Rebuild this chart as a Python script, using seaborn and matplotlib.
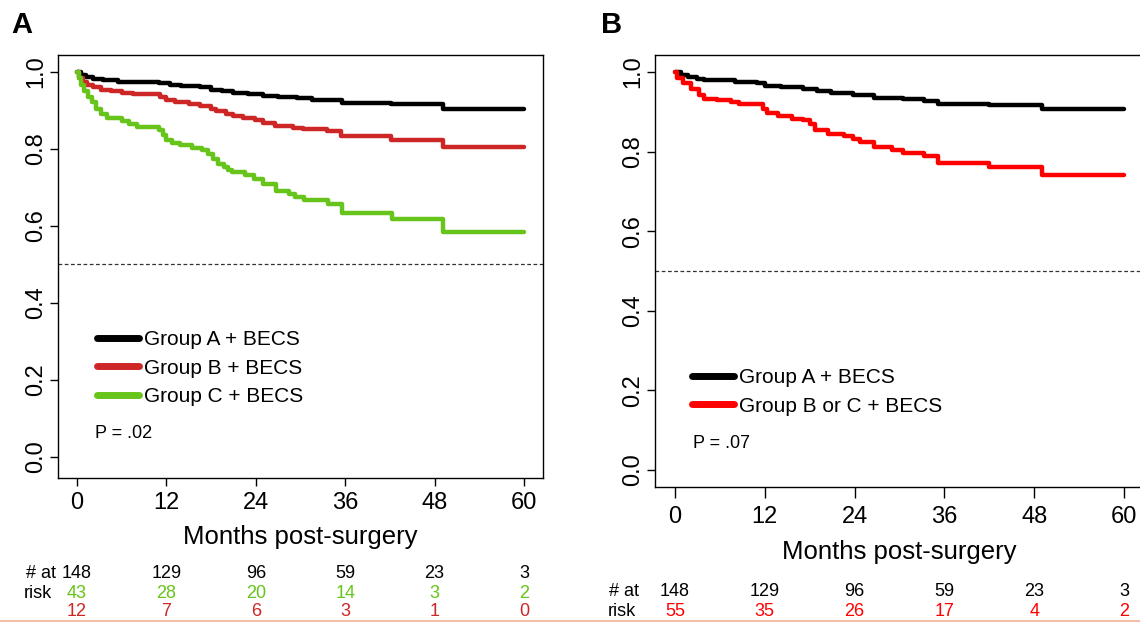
import numpy as np
import pandas as pd
import matplotlib.pyplot as plt
import matplotlib.transforms as mtransforms
from matplotlib.lines import Line2D
import seaborn as sns

# ---------------- data ----------------
# Panel A
a_time_grpA = [0, 0.5, 1.2, 2.2, 3.5, 5.5, 8.5, 11.0, 12.5, 14.0, 16.5, 18.0, 19.5, 21.0,
               23.0, 25.0, 27.0, 29.5, 31.5, 33.5, 35.6, 42.1, 49.1, 60]
a_surv_grpA = [1.0, 0.992, 0.987, 0.982, 0.978, 0.975, 0.973, 0.970, 0.966, 0.963, 0.960, 0.954,
               0.950, 0.946, 0.942, 0.938, 0.934, 0.931, 0.928, 0.926, 0.920, 0.916, 0.905, 0.905]

a_time_grpB = [0, 0.3, 0.8, 1.4, 2.2, 3.2, 4.5, 6.0, 7.5, 11.2, 12.0, 13.2, 15.0, 16.5, 18.0,
               18.7, 20.0, 21.0, 22.3, 23.9, 25.0, 26.6, 29.0, 30.4, 33.6, 35.5, 42.1, 49.1, 60]
a_surv_grpB = [1.0, 0.985, 0.975, 0.967, 0.960, 0.954, 0.951, 0.946, 0.942, 0.935, 0.926, 0.921,
               0.917, 0.912, 0.905, 0.898, 0.890, 0.886, 0.881, 0.875, 0.868, 0.860, 0.855, 0.851,
               0.846, 0.833, 0.823, 0.805, 0.805]

a_time_grpC = [0, 0.3, 0.6, 1.0, 1.5, 2.0, 2.6, 3.2, 4.0, 6.0, 7.0, 8.0, 11.0, 11.6, 12.0, 12.8,
               13.8, 15.5, 16.8, 17.6, 18.2, 18.9, 19.7, 20.3, 20.8, 22.6, 23.8, 25.0, 26.7, 28.4,
               29.3, 30.5, 33.7, 35.6, 42.3, 49.1, 60]
a_surv_grpC = [1.0, 0.985, 0.965, 0.950, 0.935, 0.922, 0.905, 0.890, 0.880, 0.872, 0.865, 0.858,
               0.848, 0.835, 0.823, 0.816, 0.810, 0.803, 0.796, 0.786, 0.773, 0.760, 0.753, 0.745,
               0.740, 0.732, 0.723, 0.710, 0.690, 0.684, 0.675, 0.668, 0.658, 0.634, 0.617, 0.584,
               0.584]

# Panel B
b_time_grpA = [0, 0.8, 1.8, 3.0, 3.9, 8.0, 10.9, 12.0, 14.2, 17.1, 19.0, 20.9, 23.8, 26.6,
               30.5, 33.3, 35.2, 41.9, 49.1, 60]
b_surv_grpA = [1.0, 0.993, 0.987, 0.982, 0.979, 0.974, 0.972, 0.964, 0.962, 0.958, 0.951, 0.947,
               0.941, 0.935, 0.931, 0.928, 0.920, 0.917, 0.908, 0.908]

b_time_grpBC = [0, 0.3, 1.05, 2.2, 3.2, 3.9, 5.6, 7.5, 8.5, 11.8, 12.3, 13.7, 15.6, 17.1, 18.0,
                18.7, 20.4, 22.6, 23.8, 24.7, 26.6, 29.0, 30.5, 33.3, 35.2, 41.9, 49.1, 60]
b_surv_grpBC = [1.0, 0.985, 0.972, 0.957, 0.943, 0.932, 0.929, 0.924, 0.920, 0.907, 0.897, 0.890,
                0.883, 0.878, 0.868, 0.855, 0.845, 0.838, 0.832, 0.823, 0.811, 0.803, 0.797, 0.788,
                0.772, 0.761, 0.740, 0.740]

risk_times = [0, 12, 24, 36, 48, 60]
a_risk_grpA = [148, 129, 96, 59, 23, 3]
a_risk_grpC = [43, 28, 20, 14, 3, 2]
a_risk_grpB = [12, 7, 6, 3, 1, 0]
b_risk_grpA = [148, 129, 96, 59, 23, 3]
b_risk_grpBC = [55, 35, 26, 17, 4, 2]

labels_a = ['Group A + BECS', 'Group B + BECS', 'Group C + BECS']
labels_b = ['Group A + BECS', 'Group B or C + BECS']

# ---------------- style ----------------
BLACK = '#000000'
DRED = '#CD2626'
GREEN = '#66C41A'
RED = '#FF0000'

sns.set_style('white')
plt.rcParams['font.family'] = ['Liberation Sans', 'DejaVu Sans']
for k in ('text.color', 'axes.labelcolor', 'xtick.color', 'ytick.color'):
    plt.rcParams[k] = 'black'

fig = plt.figure(figsize=(11.4, 6.23), dpi=100)
W, H = 1140, 623


def fx(px):
    return px / W


def fy(py):
    return 1 - py / H


def px_axes(left, top, right, bottom):
    return fig.add_axes([fx(left), fy(bottom), (right - left) / W, (bottom - top) / H])


def km(ax, t, s, color):
    df = pd.DataFrame({'t': t, 's': s})
    sns.lineplot(data=df, x='t', y='s', ax=ax, color=color, lw=3.2,
                 drawstyle='steps-post', estimator=None, legend=False)


def style_axes(ax, xlim, ylim):
    ax.set_xlim(*xlim)
    ax.set_ylim(*ylim)
    ax.set_xticks(risk_times)
    ax.set_yticks([0.0, 0.2, 0.4, 0.6, 0.8, 1.0])
    ax.set_yticklabels(['0.0', '0.2', '0.4', '0.6', '0.8', '1.0'], rotation=90, va='center')
    ax.tick_params(axis='both', direction='out', length=6, width=1, color='black',
                   labelsize=17, pad=4, left=True, bottom=True)
    ax.tick_params(axis='y', pad=2)
    for sp in ax.spines.values():
        sp.set_color('black')
        sp.set_linewidth(1.0)
    ax.set_ylabel('')
    ax.set_xlabel('Months post-surgery', fontsize=18.5, labelpad=8)
    ax.axhline(0.5, color='#333333', lw=0.9, ls=(0, (3, 2)))


def risk_row(ax, y_px, values, color):
    tr = mtransforms.blended_transform_factory(ax.transData, fig.transFigure)
    for t, v in zip(risk_times, values):
        ax.text(t, fy(y_px), str(v), transform=tr, ha='center', va='center',
                fontsize=13, color=color, clip_on=False)


# ---------------- panel A ----------------
axA = px_axes(58, 55, 543, 478)
km(axA, a_time_grpA, a_surv_grpA, BLACK)
km(axA, a_time_grpB, a_surv_grpB, DRED)
km(axA, a_time_grpC, a_surv_grpC, GREEN)
style_axes(axA, (-2.55, 62.55), (-0.055, 1.044))
handles_a = [Line2D([], [], color=c, lw=5) for c in (BLACK, DRED, GREEN)]
axA.legend(handles_a, labels_a, loc='upper left', bbox_to_anchor=(fx(89), fy(322)),
           bbox_transform=fig.transFigure, frameon=False, fontsize=15,
           handlelength=2.0, handletextpad=0.25, labelspacing=0.45, borderaxespad=0)
fig.text(fx(95), fy(433), 'P = .02', fontsize=13, va='center', ha='left')

fig.text(fx(41), fy(573), '# at', fontsize=13, ha='center', va='center')
fig.text(fx(38), fy(594), 'risk', fontsize=13, ha='center', va='center')
risk_row(axA, 573, a_risk_grpA, BLACK)
risk_row(axA, 594, a_risk_grpC, GREEN)
risk_row(axA, 612, a_risk_grpB, DRED)

# ---------------- panel B ----------------
axB = px_axes(655, 55, 1144, 487)
km(axB, b_time_grpA, b_surv_grpA, BLACK)
km(axB, b_time_grpBC, b_surv_grpBC, RED)
style_axes(axB, (-2.67, 62.67), (-0.0425, 1.0425))
axB.tick_params(axis='x', length=8, pad=6)
axB.xaxis.labelpad = 8
handles_b = [Line2D([], [], color=c, lw=5) for c in (BLACK, RED)]
axB.legend(handles_b, labels_b, loc='upper left', bbox_to_anchor=(fx(684), fy(360)),
           bbox_transform=fig.transFigure, frameon=False, fontsize=15,
           handlelength=2.0, handletextpad=0.25, labelspacing=0.45, borderaxespad=0)
fig.text(fx(693), fy(443), 'P = .07', fontsize=13, va='center', ha='left')

fig.text(fx(624), fy(592), '# at', fontsize=13, ha='center', va='center')
fig.text(fx(622), fy(612), 'risk', fontsize=13, ha='center', va='center')
risk_row(axB, 592, b_risk_grpA, BLACK)
risk_row(axB, 612, b_risk_grpBC, RED)

# panel letters
fig.text(fx(22), fy(25), 'A', fontsize=21, fontweight='bold', ha='center', va='center')
fig.text(fx(612), fy(25), 'B', fontsize=21, fontweight='bold', ha='center', va='center')

# thin salmon rule along the bottom edge
fig.add_artist(Line2D([0, 1], [fy(621), fy(621)], transform=fig.transFigure,
                      color='#F4BFA8', lw=1.5))

fig.savefig('out.png', dpi=100)
